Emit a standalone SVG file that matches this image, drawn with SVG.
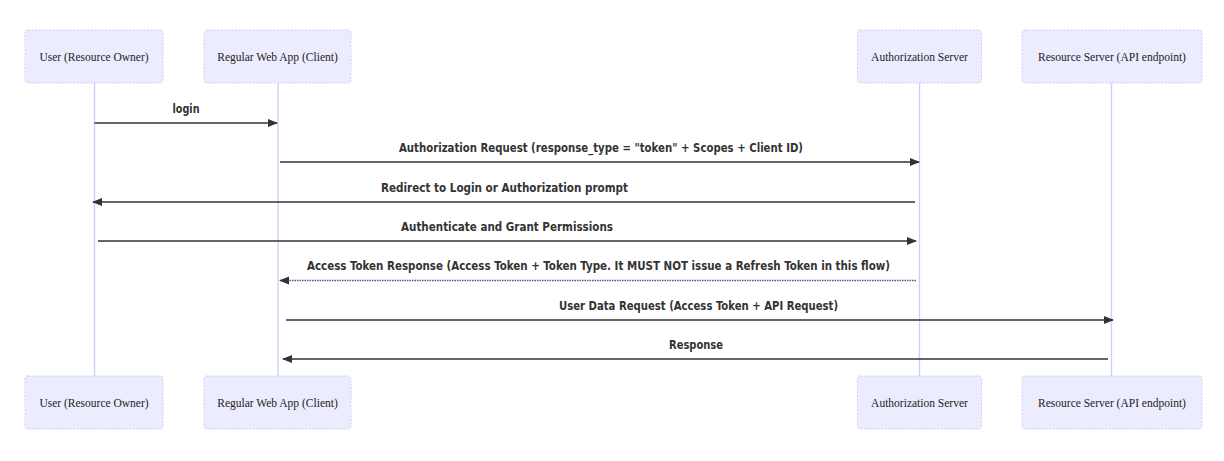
<svg xmlns="http://www.w3.org/2000/svg" width="1224" height="461" viewBox="0 0 1224 461">
<style>
.actor{fill:#ECECFF;stroke:#c9d0f5;stroke-width:1;stroke-dasharray:2,1.5}
.atext{font-family:"Liberation Serif",serif;font-size:11.5px;fill:#222;text-anchor:middle;dominant-baseline:central}
.life{stroke:#c9d0f5;stroke-width:1.3;fill:none}
.msg{stroke:#333;stroke-width:1.5;fill:none}
.dot{stroke:#4a5a80;stroke-width:1.5;stroke-dasharray:1.5,1;fill:none}
.mtext{font-family:"DejaVu Sans Condensed","DejaVu Sans",sans-serif;font-weight:bold;font-size:12px;fill:#333;text-anchor:middle}
</style>
<defs>
<marker id="ah" markerWidth="10" markerHeight="10" refX="9" refY="5" orient="auto" markerUnits="userSpaceOnUse">
<path d="M0,1 L10,5 L0,9 z" fill="#333"/>
</marker>
</defs>
<rect width="1224" height="461" fill="#fff"/>
<g id="lifelines">
<line class="life" x1="94.5" y1="83" x2="94.5" y2="376"/>
<line class="life" x1="278" y1="83" x2="278" y2="376"/>
<line class="life" x1="919.5" y1="83" x2="919.5" y2="376"/>
<line class="life" x1="1111.5" y1="83" x2="1111.5" y2="376"/>
</g>
<g id="user-top"><rect class="actor" x="25" y="30" width="138" height="53" rx="3"/><text class="atext" x="94" y="56.5">User (Resource Owner)</text></g>
<g id="client-top"><rect class="actor" x="204" y="30" width="147" height="53" rx="3"/><text class="atext" x="277.5" y="56.5">Regular Web App (Client)</text></g>
<g id="auth-top"><rect class="actor" x="857.5" y="30" width="124" height="53" rx="3"/><text class="atext" x="919.5" y="56.5">Authorization Server</text></g>
<g id="resource-top"><rect class="actor" x="1022" y="30" width="180" height="53" rx="3"/><text class="atext" x="1112" y="56.5">Resource Server (API endpoint)</text></g>
<g id="user-bottom"><rect class="actor" x="25" y="376" width="138" height="53" rx="3"/><text class="atext" x="94" y="403">User (Resource Owner)</text></g>
<g id="client-bottom"><rect class="actor" x="204" y="376" width="147" height="53" rx="3"/><text class="atext" x="277.5" y="403">Regular Web App (Client)</text></g>
<g id="auth-bottom"><rect class="actor" x="857.5" y="376" width="124" height="53" rx="3"/><text class="atext" x="919.5" y="403">Authorization Server</text></g>
<g id="resource-bottom"><rect class="actor" x="1022" y="376" width="180" height="53" rx="3"/><text class="atext" x="1112" y="403">Resource Server (API endpoint)</text></g>
<g id="connectors">
<line class="msg" x1="94.5" y1="123" x2="277" y2="123" marker-end="url(#ah)"/>
<line class="msg" x1="280" y1="162" x2="919" y2="162" marker-end="url(#ah)"/>
<line class="msg" x1="915" y1="202" x2="93" y2="202" marker-end="url(#ah)"/>
<line class="msg" x1="98" y1="241" x2="916" y2="241" marker-end="url(#ah)"/>
<line class="dot" x1="916" y1="280.5" x2="280" y2="280.5" marker-end="url(#ah)"/>
<line class="msg" x1="286" y1="320" x2="1113" y2="320" marker-end="url(#ah)"/>
<line class="msg" x1="1108" y1="359" x2="283" y2="359" marker-end="url(#ah)"/>
</g>
<g id="labels">
<text class="mtext" x="186" y="113" textLength="27" lengthAdjust="spacingAndGlyphs">login</text>
<text class="mtext" x="601" y="152" textLength="404" lengthAdjust="spacingAndGlyphs">Authorization Request (response_type = "token" + Scopes + Client ID)</text>
<text class="mtext" x="504.5" y="192" textLength="247" lengthAdjust="spacingAndGlyphs">Redirect to Login or Authorization prompt</text>
<text class="mtext" x="507" y="231" textLength="212" lengthAdjust="spacingAndGlyphs">Authenticate and Grant Permissions</text>
<text class="mtext" x="598.5" y="270" textLength="583" lengthAdjust="spacingAndGlyphs">Access Token Response (Access Token + Token Type. It MUST NOT issue a Refresh Token in this flow)</text>
<text class="mtext" x="698.5" y="310" textLength="279" lengthAdjust="spacingAndGlyphs">User Data Request (Access Token + API Request)</text>
<text class="mtext" x="696" y="349" textLength="54" lengthAdjust="spacingAndGlyphs">Response</text>
</g>
</svg>
